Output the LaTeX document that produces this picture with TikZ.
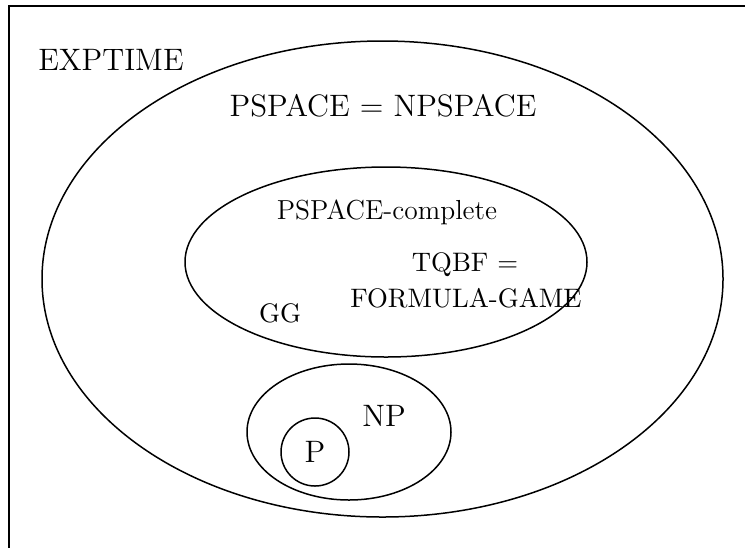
\documentclass[tikz,border=0pt]{standalone}
\begin{document}
\begin{tikzpicture}[x=0.4pt,y=-0.4pt,line width=0.6pt,
    biglabel/.style={font=\fontsize{12.4}{14}\selectfont},
    midlabel/.style={font=\fontsize{10.7}{13}\selectfont,align=center}]

    \useasboundingbox (0,0) rectangle (745,548);

    % Frame (only its top and left edges are in view)
    \coordinate (TR) at (745,6);
    \coordinate (TL) at (9,6);
    \coordinate (BL) at (9,548);
    \draw[line width=0.8pt] (TR) -- (TL) -- (BL);

    % Define centers of the sets
    \coordinate (Exp) at (382.5,279); % EXPTIME / PSPACE
    \coordinate (Com) at (386,262); % PSPACE-complete
    \coordinate (Np) at (349,432); % NP
    \coordinate (Pc) at (315,452); % P

    % Draw the sets
    \draw (Exp) ellipse [x radius=340.5, y radius=238];
    \draw (Com) ellipse [x radius=201, y radius=95];
    \draw (Np) ellipse [x radius=102, y radius=68];
    \draw (Pc) circle [radius=34];

    % Labels
    \node[biglabel] (exptime) at (111,60) {EXPTIME};
    \node[biglabel] (pspace) at (383,106) {PSPACE = NPSPACE};
    \node[midlabel,font=\fontsize{11}{13}\selectfont] (complete) at (387,212) {PSPACE-complete};
    \node[midlabel] (tqbf) at (465,265) {TQBF =};
    \node[midlabel] (fgame) at (466,298) {FORMULA-GAME};
    \node[midlabel] (gg) at (280,313) {GG};
    \node[biglabel] (np) at (384,416) {NP};
    \node[biglabel] (p) at (315,452) {P};

\end{tikzpicture}
\end{document}
